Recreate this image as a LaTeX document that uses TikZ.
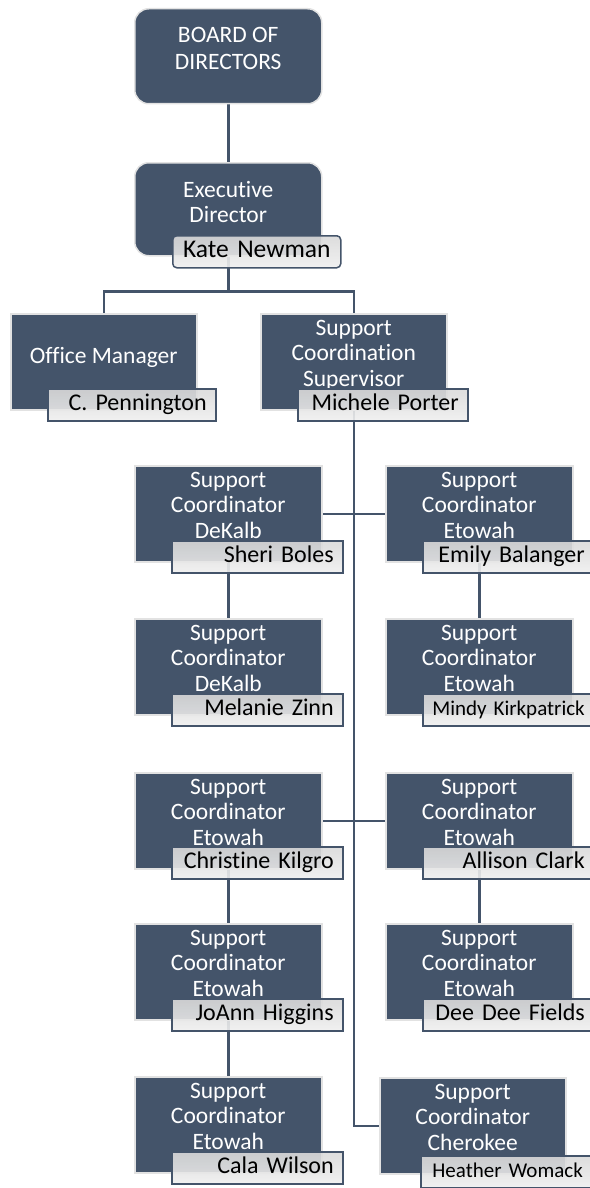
\documentclass[tikz,border=0pt]{standalone}
\usepackage{fontspec}
\setmainfont{Carlito}[Ligatures=NoCommon]
\usetikzlibrary{calc,backgrounds}
\definecolor{slate}{HTML}{44546A}
\definecolor{halo}{HTML}{E2E2E2}
\definecolor{ntop}{HTML}{D9D9D9}
\definecolor{nbot}{HTML}{EFEFEF}
\tikzset{
  darkbox/.style={anchor=north west, fill=slate, draw=halo, line width=1.5pt,
    minimum width=187pt, minimum height=96pt, inner sep=0pt},
  boxtext/.style={anchor=base, text=white, inner sep=0pt,
    font=\fontsize{23.5}{25.5}\selectfont},
  namebox/.style={anchor=north west, draw=slate, line width=1.5pt,
    top color=ntop, bottom color=nbot, fill opacity=0.9, text opacity=1,
    inner xsep=9pt, inner ysep=0pt, text height=22pt, text depth=10pt,
    align=right, text=black, font=\fontsize{24}{28}\selectfont},
  conn/.style={draw=slate, line width=2.5pt}
}
\newcommand{\tlines}[1]{\begin{tabular}[t]{@{}c@{}}#1\end{tabular}}
\newcommand{\nm}[1]{\hbox{#1}}
\begin{document}
\begin{tikzpicture}[x=1pt,y=-1pt]
\useasboundingbox (0,0) rectangle (589,1188);
% dark boxes
\node[darkbox, rounded corners=14pt, minimum height=95pt] (board) at (134,8) {};
\node[darkbox, rounded corners=14pt, minimum height=93pt] (exec) at (134,162) {};
\node[darkbox, minimum width=186pt] (office) at (10,313) {};
\node[darkbox, minimum width=186pt] (sup) at (260,313) {};
\node[darkbox] (c11) at (134,465) {};
\node[darkbox] (c12) at (385,465) {};
\node[darkbox] (c21) at (134,618) {};
\node[darkbox] (c22) at (385,618) {};
\node[darkbox] (c31) at (134,772) {};
\node[darkbox] (c32) at (385,772) {};
\node[darkbox] (c41) at (134,923) {};
\node[darkbox] (c42) at (385,923) {};
\node[darkbox] (c51) at (134,1076) {};
\node[darkbox, minimum width=186pt] (c52) at (379,1077) {};
% texts
\node[boxtext, font=\fontsize{23.5}{27}\selectfont] (boardt) at ($(board.north)+(0,35)$) {\tlines{BOARD OF\\DIRECTORS}};
\node[boxtext] (exect) at ($(exec.north)+(0,35)$) {\tlines{Executive\\Director}};
\node[boxtext] (officet) at ($(office.north)+(0,50)$) {Office Manager};
\node[boxtext] (supt) at ($(sup.north)+(0,22)$) {\tlines{Support\\Coordination\\Supervisor}};
\node[boxtext] (c11t) at ($(c11.north)+(0,22)$) {\tlines{Support\\Coordinator\\DeKalb}};
\node[boxtext] (c12t) at ($(c12.north)+(0,22)$) {\tlines{Support\\Coordinator\\Etowah}};
\node[boxtext] (c21t) at ($(c21.north)+(0,22)$) {\tlines{Support\\Coordinator\\DeKalb}};
\node[boxtext] (c22t) at ($(c22.north)+(0,22)$) {\tlines{Support\\Coordinator\\Etowah}};
\node[boxtext] (c31t) at ($(c31.north)+(0,22)$) {\tlines{Support\\Coordinator\\Etowah}};
\node[boxtext] (c32t) at ($(c32.north)+(0,22)$) {\tlines{Support\\Coordinator\\Etowah}};
\node[boxtext] (c41t) at ($(c41.north)+(0,22)$) {\tlines{Support\\Coordinator\\Etowah}};
\node[boxtext] (c42t) at ($(c42.north)+(0,22)$) {\tlines{Support\\Coordinator\\Etowah}};
\node[boxtext] (c51t) at ($(c51.north)+(0,22)$) {\tlines{Support\\Coordinator\\Etowah}};
\node[boxtext] (c52t) at ($(c52.north)+(0,22)$) {\tlines{Support\\Coordinator\\Cherokee}};
% connectors
\begin{pgfonlayer}{background}
\draw[conn] (board.south) -- (exec.north);
\draw[conn] (exec.south) -- ++(0,35) -| (office.north);
\draw[conn] (exec.south) -- ++(0,35) -| (sup.north);
\draw[conn] (sup.south) |- (c52.west);
\draw[conn] (c11.east) -- (c12.west);
\draw[conn] (c31.east) -- (c32.west);
\draw[conn] (c11.south) -- (c21.north);
\draw[conn] (c12.south) -- (c22.north);
\draw[conn] (c31.south) -- (c41.north);
\draw[conn] (c32.south) -- (c42.north);
\draw[conn] (c41.south) -- (c51.north);
\end{pgfonlayer}
% name boxes
\node[namebox, rounded corners=4pt, text width=150pt, align=center, font=\fontsize{25.5}{30}\selectfont] (kate) at (172,235) {\nm{Kate Newman}};
\node[namebox, text width=150pt] (penn) at (47,388) {\nm{C. Pennington}};
\node[namebox, text width=152pt] (porter) at (297,388) {\nm{Michele Porter}};
\node[namebox, text width=153pt] (sheri) at (171,540) {\nm{Sheri Boles}};
\node[namebox, text width=153pt] (emily) at (422,540) {\nm{Emily Balanger}};
\node[namebox, text width=153pt] (melanie) at (171,693) {\nm{Melanie Zinn}};
\node[namebox, text width=153pt, font=\fontsize{21}{25}\selectfont] (mindy) at (422,693) {\nm{Mindy Kirkpatrick}};
\node[namebox, text width=153pt] (christine) at (171,846) {\nm{Christine Kilgro}};
\node[namebox, text width=153pt] (allison) at (422,846) {\nm{Allison Clark}};
\node[namebox, text width=153pt] (joann) at (171,998) {\nm{JoAnn Higgins}};
\node[namebox, text width=153pt] (dee) at (422,998) {\nm{Dee Dee Fields}};
\node[namebox, text width=153pt] (cala) at (171,1151) {\nm{Cala Wilson}};
\node[namebox, text width=153pt, font=\fontsize{21}{25}\selectfont] (heather) at (420,1155) {\nm{Heather Womack}};
\end{tikzpicture}
\end{document}
